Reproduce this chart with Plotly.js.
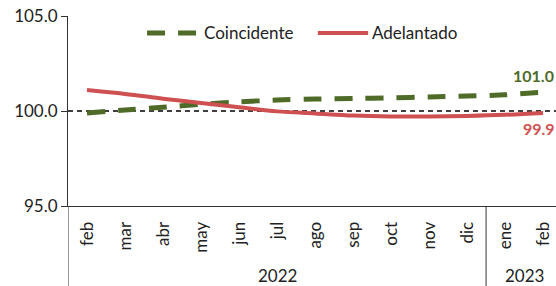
<!DOCTYPE html>
<html>
<head>
<meta charset="utf-8">
<script src="https://cdn.plot.ly/plotly-3.0.1.min.js"></script>
<style>html,body{margin:0;padding:0;background:#fff;}#chart{width:556px;height:286px;}</style>
</head>
<body>
<div id="chart"></div>
<script>
const months = ["feb","mar","abr","may","jun","jul","ago","sep","oct","nov","dic","ene","feb "];
const monthLabels = ["feb","mar","abr","may","jun","jul","ago","sep","oct","nov","dic","ene","feb"];
const years = ["2022","2023"];
const yearGroups = [[0,10],[11,12]];
const seriesNames = ["Coincidente","Adelantado"];
const coincidente = [99.9,100.05,100.2,100.35,100.48,100.58,100.63,100.66,100.69,100.74,100.79,100.85,101.0];
const adelantado = [101.1,100.9,100.65,100.42,100.2,99.98,99.87,99.76,99.71,99.71,99.74,99.8,99.9];
const reference = 100;

const green = "#4F6B28";
const red = "#CF5050";
const font = "Lato, 'Open Sans', sans-serif";
const idx = months.map((m,i)=>i);

const traces = [
  {x: idx, y: coincidente, type: "scatter", mode: "lines", name: seriesNames[0],
   line: {color: green, width: 5, dash: "18px,13px", shape: "spline", smoothing: 0.6}},
  {x: idx, y: adelantado, type: "scatter", mode: "lines", name: seriesNames[1],
   line: {color: red, width: 4, shape: "spline", smoothing: 1}}
];

const legY = 0.911;
const shapes = [
  {type: "line", xref: "paper", yref: "y", x0: 0, x1: 1, y0: reference, y1: reference,
   line: {color: "#000", width: 1.5, dash: "5px,4px"}, layer: "below"},
  {type: "line", xref: "x", yref: "paper", x0: -0.5, x1: -0.5, y0: 0, y1: -0.43,
   line: {color: "#333", width: 1}},
  {type: "line", xref: "x", yref: "paper", x0: yearGroups[0][1] + 0.5, x1: yearGroups[0][1] + 0.5, y0: 0, y1: -0.43,
   line: {color: "#333", width: 1}},
  // legend samples
  {type: "line", xref: "paper", yref: "paper", x0: 0.162, x1: 0.266, y0: legY, y1: legY,
   line: {color: green, width: 5, dash: "18px,13px"}},
  {type: "line", xref: "paper", yref: "paper", x0: 0.512, x1: 0.615, y0: legY, y1: legY,
   line: {color: red, width: 4}}
];

const annotations = years.map((yr, k) => ({
  text: yr, xref: "x", yref: "paper",
  x: (yearGroups[k][0] + yearGroups[k][1]) / 2, y: -0.365,
  showarrow: false, font: {family: font, size: 17, color: "#222"}, yanchor: "middle"
}));
annotations.push({text: seriesNames[0], xref: "paper", yref: "paper", x: 0.274, y: legY,
  xanchor: "left", yanchor: "middle", showarrow: false, font: {family: font, size: 17, color: "#222"}});
annotations.push({text: seriesNames[1], xref: "paper", yref: "paper", x: 0.619, y: legY,
  xanchor: "left", yanchor: "middle", showarrow: false, font: {family: font, size: 17, color: "#222"}});
const last = months.length - 1;
annotations.push({text: "<b>" + coincidente[last].toFixed(1) + "</b>", xref: "x", yref: "y",
  x: last, y: coincidente[last], showarrow: false, xshift: -10, yshift: 17,
  font: {family: font, size: 16, color: green}});
annotations.push({text: "<b>" + adelantado[last].toFixed(1) + "</b>", xref: "x", yref: "y",
  x: last, y: adelantado[last], showarrow: false, xshift: -4, yshift: -16,
  font: {family: font, size: 16, color: red}});

const layout = {
  width: 556, height: 286,
  margin: {l: 68, r: 0, t: 16, b: 80},
  paper_bgcolor: "#fff", plot_bgcolor: "#fff",
  showlegend: false,
  xaxis: {type: "linear", range: [-0.5, 12.34], tickvals: idx, ticktext: monthLabels,
          tickangle: -90, showline: true, linecolor: "#333", linewidth: 1, showgrid: false,
          zeroline: false, ticks: "", ticklabelstandoff: 8,
          tickfont: {family: font, size: 17, color: "#222"}},
  yaxis: {range: [95, 105], dtick: 5, tick0: 95, tickformat: ".1f", showline: true,
          linecolor: "#333", linewidth: 1, ticks: "outside", ticklen: 6, tickcolor: "#333",
          showgrid: false, zeroline: false,
          tickfont: {family: font, size: 17, color: "#222"}},
  shapes: shapes, annotations: annotations
};

Plotly.newPlot("chart", traces, layout, {displayModeBar: false, staticPlot: true});
</script>
</body>
</html>
